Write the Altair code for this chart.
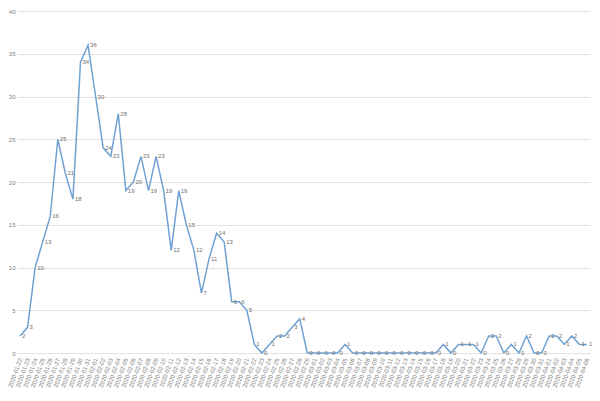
import altair as alt
import pandas as pd

dates = [
    "2020-01-22", "2020-01-23", "2020-01-24", "2020-01-25", "2020-01-26", "2020-01-27",
    "2020-01-28", "2020-01-29", "2020-01-30", "2020-01-31", "2020-02-01", "2020-02-02",
    "2020-02-03", "2020-02-04", "2020-02-05", "2020-02-06", "2020-02-07", "2020-02-08",
    "2020-02-09", "2020-02-10", "2020-02-11", "2020-02-12", "2020-02-13", "2020-02-14",
    "2020-02-15", "2020-02-16", "2020-02-17", "2020-02-18", "2020-02-19", "2020-02-20",
    "2020-02-21", "2020-02-22", "2020-02-23", "2020-02-24", "2020-02-25", "2020-02-26",
    "2020-02-27", "2020-02-28", "2020-02-29", "2020-03-01", "2020-03-02", "2020-03-03",
    "2020-03-04", "2020-03-05", "2020-03-06", "2020-03-07", "2020-03-08", "2020-03-09",
    "2020-03-10", "2020-03-11", "2020-03-12", "2020-03-13", "2020-03-14", "2020-03-15",
    "2020-03-16", "2020-03-17", "2020-03-18", "2020-03-19", "2020-03-20", "2020-03-21",
    "2020-03-22", "2020-03-23", "2020-03-24", "2020-03-25", "2020-03-26", "2020-03-27",
    "2020-03-28", "2020-03-29", "2020-03-30", "2020-03-31", "2020-04-01", "2020-04-02",
    "2020-04-03", "2020-04-04", "2020-04-05", "2020-04-06",
]

cases = [
    2, 3, 10, 13, 16, 25, 21, 18, 34, 36, 30, 24,
    23, 28, 19, 20, 23, 19, 23, 19, 12, 19, 15, 12,
    7, 11, 14, 13, 6, 6, 5, 1, 0, 1, 2, 2,
    3, 4, 0, 0, 0, 0, 0, 1, 0, 0, 0, 0,
    0, 0, 0, 0, 0, 0, 0, 0, 1, 0, 1, 1,
    1, 0, 2, 2, 0, 1, 0, 2, 0, 0, 2, 2,
    1, 2, 1, 1,
]

y_ticks = [0, 5, 10, 15, 20, 25, 30, 35, 40]

df = pd.DataFrame({"date": dates, "cases": cases})

base = alt.Chart(df).encode(
    x=alt.X(
        "date:N",
        sort=None,
        scale=alt.Scale(type="point", padding=0.4),
        axis=alt.Axis(
            title=None,
            labelAngle=-70,
            labelFontSize=6,
            labelColor="#808080",
            ticks=False,
            domain=False,
            grid=False,
            labelPadding=5,
        ),
    ),
    y=alt.Y(
        "cases:Q",
        scale=alt.Scale(domain=[0, 40]),
        axis=alt.Axis(
            title=None,
            values=y_ticks,
            labelFontSize=6,
            labelColor="#808080",
            ticks=False,
            domain=False,
            gridColor="#e3e3e3",
            labelPadding=2,
        ),
    ),
)

line = base.mark_line(color="#6fa2d2", strokeWidth=1.5)
text = base.mark_text(
    align="left", baseline="middle", dx=2, fontSize=6, color="#707070"
).encode(text="cases:Q")

chart = (
    (line + text)
    .properties(
        width=573,
        height=342,
        autosize=alt.AutoSizeParams(type="none"),
        padding={"left": 9, "top": 3, "right": 2, "bottom": 36},
    )
    .configure_view(stroke=None)
)

chart.save("out.html", embed_options={"renderer": "svg", "actions": False})
